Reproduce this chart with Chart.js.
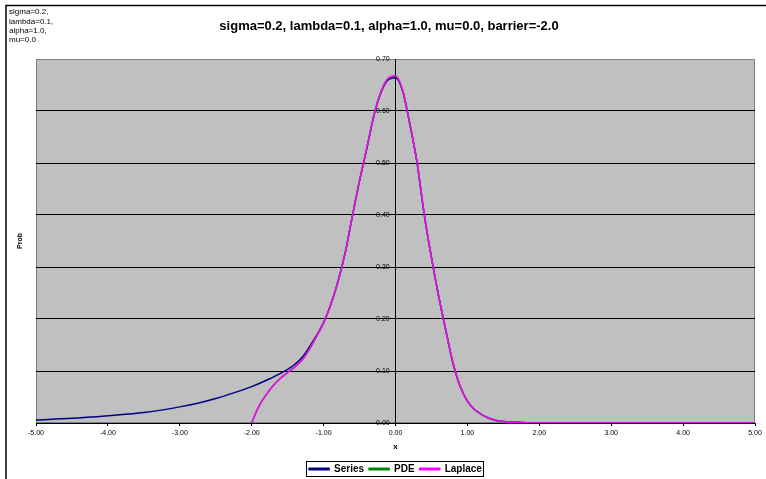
<!DOCTYPE html>
<html>
<head>
<meta charset="utf-8">
<script src="https://cdn.jsdelivr.net/npm/chart.js@4.4.1/dist/chart.umd.min.js"></script>
<style>
    html, body { margin: 0; padding: 0; background: #fff; }
    #wrap { width: 766px; height: 479px; }
</style>
</head>
<body>
<div id="wrap"><canvas id="probChart" width="766" height="479"></canvas></div>
<script>
const titleText = "sigma=0.2, lambda=0.1, alpha=1.0, mu=0.0, barrier=-2.0";
const paramLines = ["sigma=0.2,", "lambda=0.1,", "alpha=1.0,", "mu=0.0"];
const seriesNames = ["Series", "PDE", "Laplace"];

const seriesX = [-5, -4.5, -4, -3.5, -3, -2.75, -2.5, -2.25, -2, -1.75, -1.5, -1.4, -1.3, -1.2, -1.1,
    -1, -0.9, -0.8, -0.7, -0.6, -0.5, -0.4, -0.3, -0.2, -0.1, 0, 0.1, 0.2, 0.3, 0.4, 0.5, 0.6, 0.7,
    0.8, 0.9, 1, 1.1, 1.2, 1.3, 1.4, 1.5, 1.75, 2, 3, 4, 5];
const seriesY = [0.006, 0.009, 0.014, 0.020, 0.031, 0.038, 0.047, 0.058, 0.070, 0.085, 0.103, 0.113, 0.126, 0.146, 0.168,
    0.193, 0.228, 0.272, 0.327, 0.398, 0.466, 0.527, 0.591, 0.636, 0.660, 0.664, 0.638, 0.574, 0.500, 0.400, 0.318, 0.244, 0.178,
    0.115, 0.070, 0.042, 0.026, 0.016, 0.009, 0.005, 0.003, 0.001, 0, 0, 0, 0];

const pdeX = [-2, -1.95, -1.9, -1.8, -1.7, -1.6, -1.5, -1.4, -1.3, -1.2, -1.1,
    -1, -0.9, -0.8, -0.7, -0.6, -0.5, -0.4, -0.3, -0.2, -0.1, 0, 0.1, 0.2, 0.3, 0.4, 0.5, 0.6, 0.7,
    0.8, 0.9, 1, 1.1, 1.2, 1.3, 1.4, 1.5, 1.75, 2, 3, 4, 5];
const pdeY = [0, 0.017, 0.032, 0.054, 0.072, 0.086, 0.097, 0.108, 0.121, 0.141, 0.166,
    0.193, 0.228, 0.272, 0.327, 0.398, 0.466, 0.528, 0.592, 0.638, 0.663, 0.667, 0.639, 0.575, 0.501, 0.401, 0.318, 0.244, 0.178,
    0.115, 0.070, 0.042, 0.026, 0.016, 0.009, 0.005, 0.003, 0.001, 0, 0, 0, 0];

const laplaceX = [-2, -1.95, -1.9, -1.8, -1.7, -1.6, -1.5, -1.4, -1.3, -1.2, -1.1,
    -1, -0.9, -0.8, -0.7, -0.6, -0.5, -0.4, -0.3, -0.2, -0.1, 0, 0.1, 0.2, 0.3, 0.4, 0.5, 0.6, 0.7,
    0.8, 0.9, 1, 1.1, 1.2, 1.3, 1.4, 1.5, 1.75, 2, 3, 4, 5];
const laplaceY = [0, 0.017, 0.032, 0.054, 0.072, 0.086, 0.097, 0.108, 0.121, 0.141, 0.166,
    0.193, 0.228, 0.272, 0.327, 0.398, 0.466, 0.528, 0.592, 0.638, 0.663, 0.668, 0.640, 0.575, 0.501, 0.401, 0.318, 0.244, 0.178,
    0.115, 0.070, 0.042, 0.026, 0.016, 0.009, 0.005, 0.003, 0.001, 0, 0, 0, 0];

const yTicks = [0, 0.1, 0.2, 0.3, 0.4, 0.5, 0.6, 0.7];

function toPoints(xs, ys) {
    return xs.map((x, i) => ({ x: x, y: ys[i] }));
}

Chart.defaults.font.family = "'Liberation Sans', Arial, sans-serif";
Chart.defaults.color = "#000";

// background, plot area, frame and loose texts
const decorPlugin = {
    id: "decor",
    beforeDraw(chart) {
        const ctx = chart.ctx;
        const a = chart.chartArea;
        ctx.save();
        ctx.fillStyle = "#fff";
        ctx.fillRect(0, 0, chart.width, chart.height);
        ctx.strokeStyle = "#000";
        ctx.lineWidth = 1.5;
        ctx.beginPath();
        ctx.moveTo(6, chart.height);
        ctx.lineTo(6, 5.5);
        ctx.lineTo(766, 5.5);
        ctx.stroke();
        ctx.fillStyle = "#c0c0c0";
        ctx.fillRect(a.left, a.top, a.right - a.left, a.bottom - a.top);
        ctx.strokeStyle = "#808080";
        ctx.lineWidth = 1;
        ctx.strokeRect(a.left + 0.5, a.top + 0.5, a.right - a.left - 1, a.bottom - a.top - 1);
        ctx.restore();
    },
    afterDraw(chart) {
        const ctx = chart.ctx;
        const a = chart.chartArea;
        ctx.save();
        ctx.fillStyle = "#000";
        ctx.font = "bold 13px 'Liberation Sans', Arial, sans-serif";
        ctx.textAlign = "center";
        ctx.textBaseline = "middle";
        ctx.fillText(titleText, 389, 26);

        ctx.font = "8px 'Liberation Sans', Arial, sans-serif";
        ctx.textAlign = "left";
        paramLines.forEach((t, i) => ctx.fillText(t, 9, 12 + i * 9.3));

        ctx.font = "bold 7px 'Liberation Sans', Arial, sans-serif";
        ctx.translate(20, (a.top + a.bottom) / 2);
        ctx.rotate(-Math.PI / 2);
        ctx.textAlign = "center";
        ctx.fillText("Prob", 0, 0);
        ctx.restore();

        // box round the legend
        const boxes = chart.legend.legendHitBoxes;
        if (boxes && boxes.length) {
            const left = Math.min(...boxes.map(b => b.left)) - 3;
            const right = Math.max(...boxes.map(b => b.left + b.width)) + 1;
            const top = boxes[0].top - 3;
            const h = boxes[0].height + 5;
            ctx.save();
            ctx.strokeStyle = "#000";
            ctx.lineWidth = 1;
            ctx.strokeRect(Math.round(left) + 0.5, Math.round(top) + 0.5, Math.round(right - left), Math.round(h));
            ctx.restore();
        }
    },
};

const legendShift = 5;

new Chart(document.getElementById("probChart"), {
    type: "line",
    data: {
        datasets: [
            {
                label: seriesNames[0],
                data: toPoints(seriesX, seriesY),
                borderColor: "#000080",
                backgroundColor: "#000080",
                order: 3,
            },
            {
                label: seriesNames[1],
                data: toPoints(pdeX, pdeY),
                borderColor: "#008000",
                backgroundColor: "#008000",
                order: 2,
            },
            {
                label: seriesNames[2],
                data: toPoints(laplaceX, laplaceY),
                borderColor: "#ff00ff",
                backgroundColor: "#ff00ff",
                order: 1,
            },
        ],
    },
    options: {
        responsive: false,
        animation: false,
        events: [],
        layout: {
            padding: { left: 36, right: 11, top: 59, bottom: -legendShift },
        },
        elements: {
            point: { radius: 0 },
            line: { borderWidth: 1.5, cubicInterpolationMode: "monotone", fill: false },
        },
        plugins: {
            tooltip: { enabled: false },
            legend: {
                position: "bottom",
                labels: {
                    boxWidth: 20,
                    boxHeight: 1.5,
                    padding: 5,
                    color: "#000",
                    font: { size: 10, weight: "bold" },
                    sort: (a, b) => a.datasetIndex - b.datasetIndex,
                },
            },
        },
        scales: {
            x: {
                type: "linear",
                min: -5,
                max: 5,
                ticks: {
                    stepSize: 1,
                    maxRotation: 0,
                    padding: 3,
                    font: { size: 7 },
                    callback: (v) => v.toFixed(2),
                },
                grid: { drawOnChartArea: false, tickLength: 3, color: "#000" },
                border: { color: "#000", width: 1 },
                title: {
                    display: true,
                    text: "x",
                    font: { size: 8, weight: "bold" },
                    padding: { top: 4, bottom: 7 },
                },
                afterFit: (scale) => {
                    scale.height = 479 + legendShift - 423 - scale.chart.legend.height;
                },
            },
            y: {
                type: "linear",
                position: { x: 0 },
                min: 0,
                max: 0.7,
                afterBuildTicks: (scale) => {
                    scale.ticks = yTicks.map((v) => ({ value: v }));
                },
                ticks: {
                    font: { size: 7 },
                    // labels sit just left of the axis at x=0
                    callback: (v) => v.toFixed(2) + "   ",
                },
                grid: {
                    tickLength: 4,
                    color: (c) => (c.tick && c.tick.value === 0.7 ? "#808080" : "#000"),
                },
                border: { color: "#000", width: 1 },
            },
        },
    },
    plugins: [decorPlugin],
});
</script>
</body>
</html>
